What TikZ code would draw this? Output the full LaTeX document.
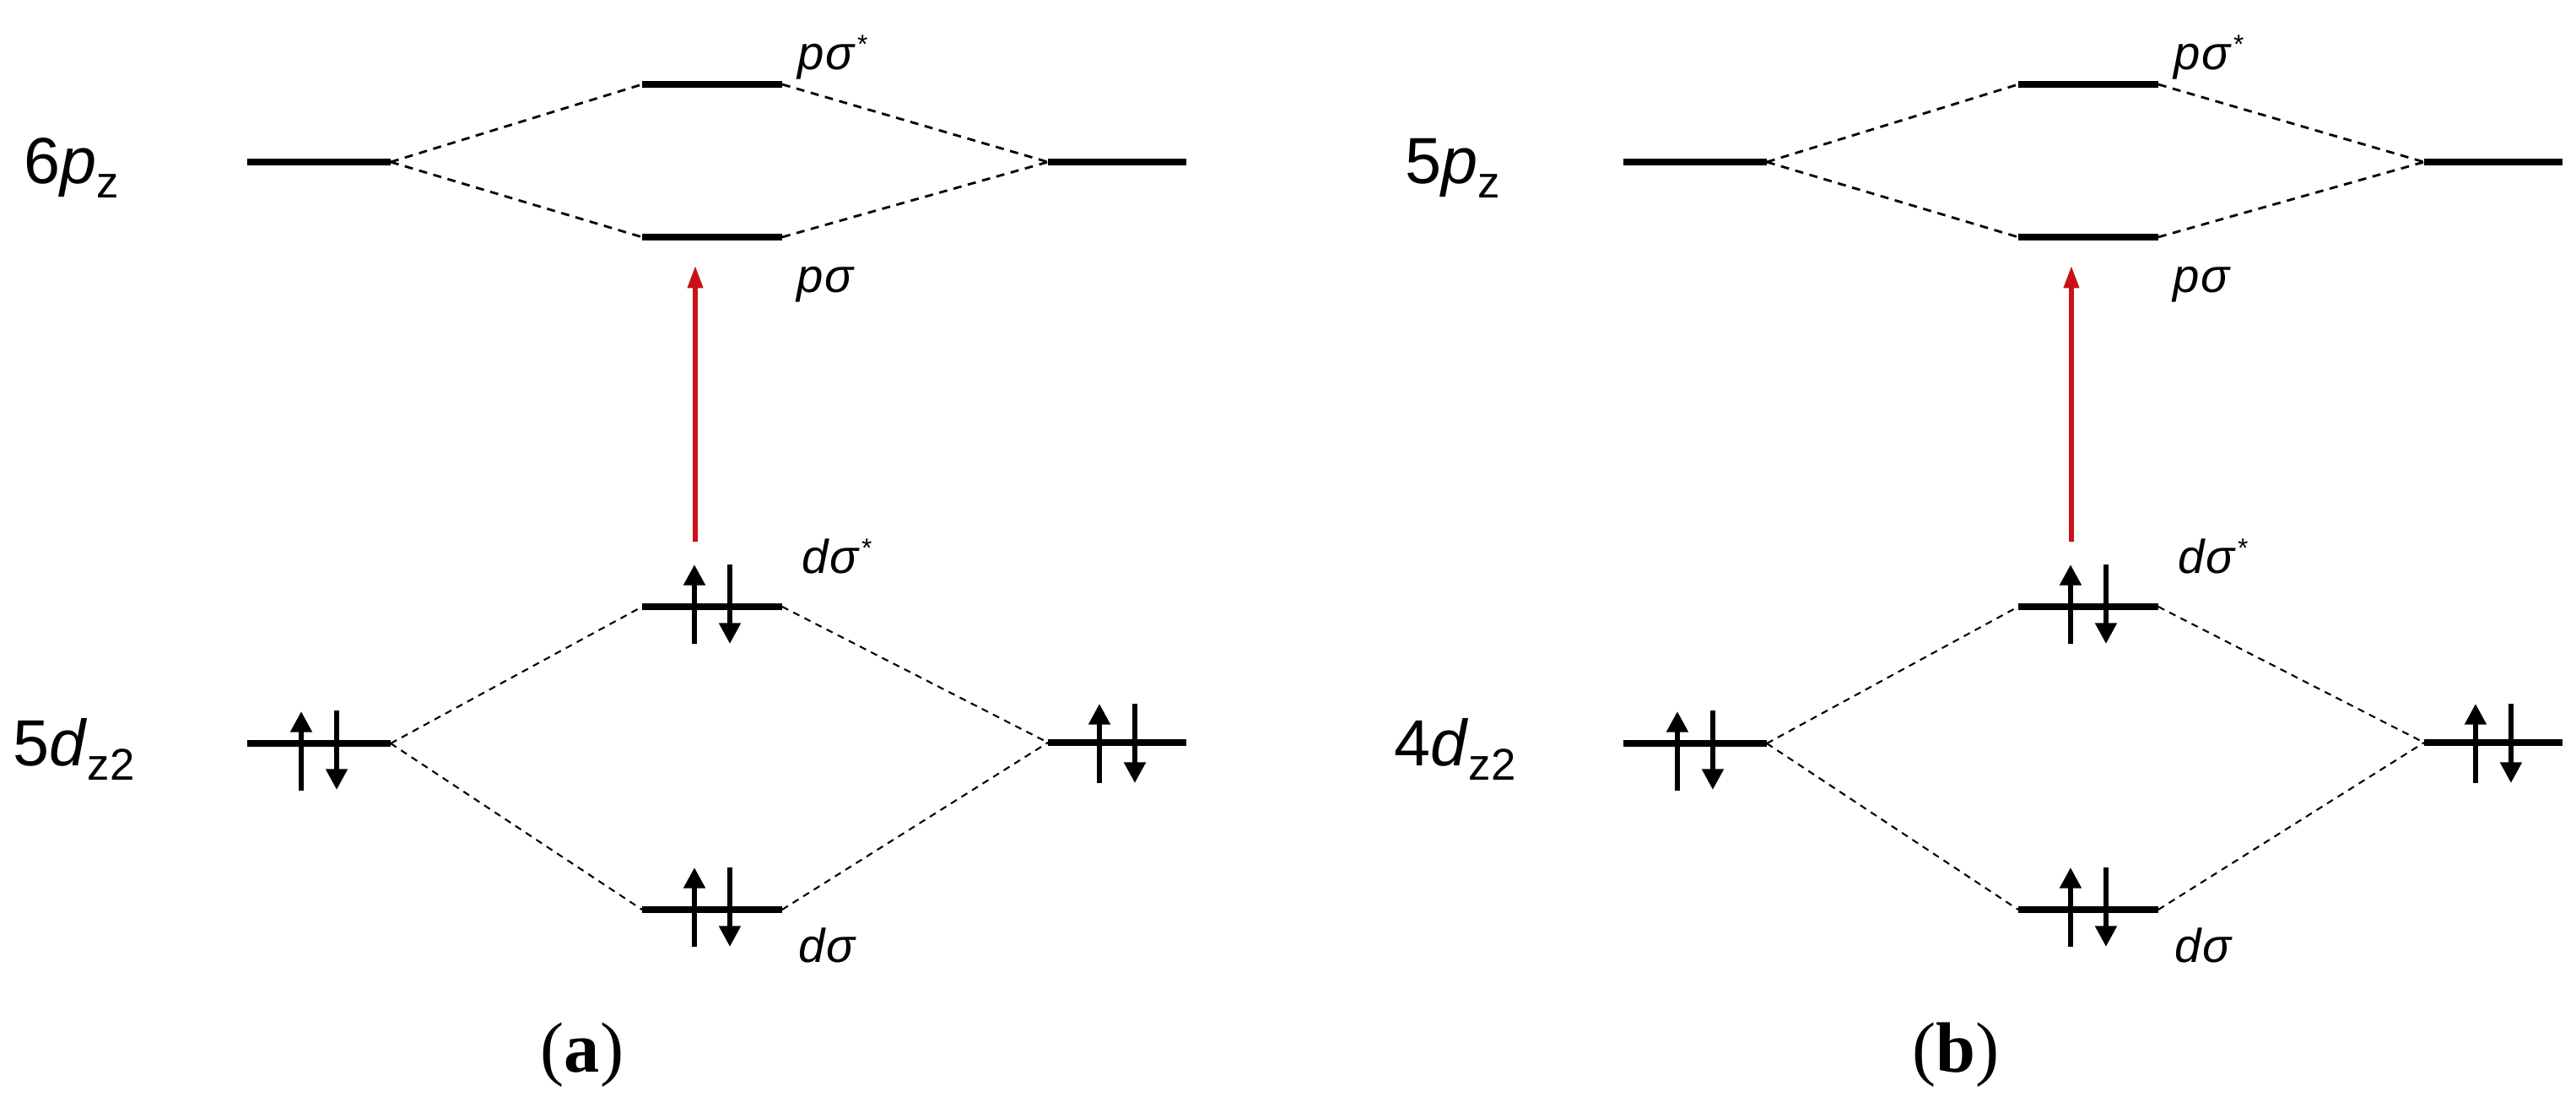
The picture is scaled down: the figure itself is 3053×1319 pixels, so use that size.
\documentclass[tikz,border=0pt]{standalone}
\usepackage{fontspec}
\setmainfont{Liberation Sans}
\newfontfamily\capfont{Liberation Serif}
\usetikzlibrary{arrows.meta}
\definecolor{excitered}{RGB}{200,18,24}
\tikzset{
  x=0.01cm, y=-0.01cm,
  molevel/.style={line width=2.3pt, line cap=butt},
  plink/.style={dash pattern=on 2.8pt off 2.2pt, line width=0.8pt},
  dlink/.style={dash pattern=on 2.3pt off 1.9pt, line width=0.6pt},
  spin/.style={line width=1.7pt, -{Triangle[width=7pt,length=7pt]}},
  excite/.style={line width=1.5pt, draw=excitered, -{Triangle[width=5pt,length=7.5pt]}, color=excitered},
  atomlab/.style={anchor=base west, inner sep=0pt, font=\fontsize{22}{22}\selectfont},
  mollab/.style={anchor=base west, inner sep=0pt, font=\fontsize{16}{16}\selectfont\itshape},
  caplab/.style={anchor=base, inner sep=0pt, font=\capfont\fontsize{24}{24}\selectfont}
}
\newcommand\substar{\raisebox{5.5pt}{\fontsize{9}{9}\selectfont\upshape *}}
\newcommand\subz[1]{\raisebox{-4.8pt}{\fontsize{15}{15}\selectfont #1}}
\newcommand\mopanel[5]{%
  \begin{scope}[xshift=#2cm]
    % level end points
    \coordinate (#1pl1) at (293,192);  \coordinate (#1pl2) at (463,192);
    \coordinate (#1pa1) at (761,100);  \coordinate (#1pa2) at (927,100);
    \coordinate (#1pb1) at (761,281);  \coordinate (#1pb2) at (927,281);
    \coordinate (#1pr1) at (1242,192); \coordinate (#1pr2) at (1406,192);
    \coordinate (#1dl1) at (293,881);  \coordinate (#1dl2) at (463,881);
    \coordinate (#1da1) at (761,719);  \coordinate (#1da2) at (927,719);
    \coordinate (#1db1) at (761,1078); \coordinate (#1db2) at (927,1078);
    \coordinate (#1dr1) at (1242,880); \coordinate (#1dr2) at (1406,880);
    % level centres
    \coordinate (#1dlc) at (378,881);
    \coordinate (#1dac) at (844,719);
    \coordinate (#1dbc) at (844,1078);
    \coordinate (#1drc) at (1324,880);
    \coordinate (#1pbc) at (844,281);
    % levels
    \foreach \lv in {pl,pa,pb,pr,dl,da,db,dr}
      \draw[molevel] (#1\lv1) -- (#1\lv2);
    % correlation lines
    \draw[plink] (#1pl2) -- (#1pa1);
    \draw[plink] (#1pl2) -- (#1pb1);
    \draw[plink] (#1pa2) -- (#1pr1);
    \draw[plink] (#1pb2) -- (#1pr1);
    \draw[dlink] (#1dl2) -- (#1da1);
    \draw[dlink] (#1dl2) -- (#1db1);
    \draw[dlink] (#1da2) -- (#1dr1);
    \draw[dlink] (#1db2) -- (#1dr1);
    % electrons
    \draw[spin] ([shift={(-21,56)}]#1dlc) -- ++(0,-94);
    \draw[spin] ([shift={(21,-39)}]#1dlc) -- ++(0,94);
    \draw[spin] ([shift={(-21,44)}]#1dac) -- ++(0,-94);
    \draw[spin] ([shift={(21,-50)}]#1dac) -- ++(0,94);
    \draw[spin] ([shift={(-21,44)}]#1dbc) -- ++(0,-94);
    \draw[spin] ([shift={(21,-50)}]#1dbc) -- ++(0,94);
    \draw[spin] ([shift={(-21,48)}]#1drc) -- ++(0,-94);
    \draw[spin] ([shift={(21,-46)}]#1drc) -- ++(0,94);
    % excitation
    \coordinate (#1exa) at ([shift={(-20,-77)}]#1dac);
    \coordinate (#1exb) at ([shift={(-20,34)}]#1pbc);
    \draw[excite] (#1exa) -- (#1exb);
    % labels
    \node[atomlab] (#1ptext) at (#3,218) {#4};
    \node[atomlab] (#1dtext) at (#3-13,908) {#5};
    \node[mollab] (#1pstar) at (945,83) {p\kern0.5ptσ\kern1pt\substar};
    \node[mollab] (#1psig) at (944,347) {p\kern0.5ptσ};
    \node[mollab] (#1dstar) at (950,680) {d\kern0.5ptσ\kern1pt\substar};
    \node[mollab] (#1dsig) at (946,1140) {d\kern0.5ptσ};
  \end{scope}}
\begin{document}
\begin{tikzpicture}
  \useasboundingbox (0,0) rectangle (3053,1319);
  \mopanel{a}{0}{28}{6\textit{p}\subz{z}}{5\textit{d}\subz{z2}}
  \mopanel{b}{16.3}{34}{5\textit{p}\subz{z}}{4\textit{d}\subz{z2}}
  \node[caplab] (capa) at (690,1271) {(\textbf{a})};
  \node[caplab] (capb) at (2318,1271) {(\textbf{b})};
\end{tikzpicture}
\end{document}
